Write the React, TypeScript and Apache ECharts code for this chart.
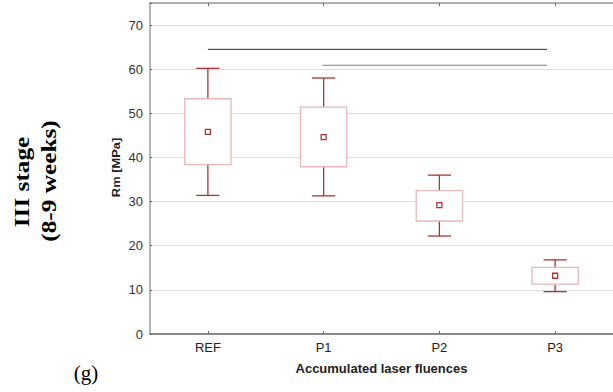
import React, { useEffect, useRef } from "react";
import * as echarts from "echarts";

const categories = ["REF", "P1", "P2", "P3"];
const whiskerMin = [31.4, 31.3, 22.2, 9.6];
const boxQ1 = [38.4, 37.9, 25.6, 11.3];
const meanValues = [45.8, 44.6, 29.2, 13.2];
const boxQ3 = [53.3, 51.4, 32.5, 15.1];
const whiskerMax = [60.2, 58.0, 36.0, 16.8];
const sigLine1X = [0, 2.93];
const sigLine1Y = [64.5, 64.5];
const sigLine2X = [0.99, 2.93];
const sigLine2Y = [60.9, 60.9];
const yTicks = [0, 10, 20, 30, 40, 50, 60, 70];

export default function App() {
  const ref = useRef<HTMLDivElement>(null);
  useEffect(() => {
    if (!ref.current) return;
    const chart = echarts.init(ref.current, null, { renderer: "svg" });
    const boxData = categories.map((_, i) => [
      i,
      whiskerMin[i],
      boxQ1[i],
      meanValues[i],
      boxQ3[i],
      whiskerMax[i],
    ]);
    const whiskerColor = "#aa3535";
    const boxColor = "#e8b8b8";
    const sans = "Liberation Sans, Arial, sans-serif";
    const serif = "Liberation Serif, Times New Roman, serif";
    chart.setOption({
      animation: false,
      backgroundColor: "#fff",
      grid: { left: 150, top: 3, right: -4, bottom: 58, containLabel: false },
      xAxis: [
        {
          type: "category",
          data: categories,
          position: "bottom",
          axisLine: { show: true, lineStyle: { color: "#888", width: 2 } },
          axisTick: { show: true, inside: true, length: 3, alignWithLabel: true, lineStyle: { color: "#666" } },
          axisLabel: { color: "#222", fontSize: 13, fontFamily: sans, margin: 7 },
          name: "Accumulated laser fluences",
          nameLocation: "middle",
          nameGap: 28,
          nameTextStyle: { color: "#222", fontSize: 13, fontWeight: "bold", fontFamily: sans },
          splitLine: { show: false },
        },
        {
          type: "category",
          data: categories,
          position: "top",
          axisLine: { show: true, lineStyle: { color: "#999", width: 1.5 } },
          axisTick: { show: true, inside: true, length: 3, alignWithLabel: true, lineStyle: { color: "#666" } },
          axisLabel: { show: false },
          splitLine: { show: false },
        },
        {
          type: "value",
          min: -0.5,
          max: 3.5,
          show: false,
        },
      ],
      yAxis: {
        type: "value",
        min: 0,
        max: 75,
        interval: 10,
        axisLine: { show: true, onZero: false, lineStyle: { color: "#999", width: 1.5 } },
        axisTick: { show: true, inside: true, length: 2, lineStyle: { color: "#666" } },
        axisLabel: {
          color: "#333",
          fontSize: 13,
          fontFamily: sans,
          margin: 7,
          formatter: (v: number) => (yTicks.includes(v) ? String(v) : ""),
        },
        splitLine: { show: true, lineStyle: { color: "#dedede", width: 1 } },
      },
      series: [
        {
          type: "custom",
          xAxisIndex: 0,
          yAxisIndex: 0,
          data: boxData,
          z: 3,
          renderItem: (params: any, api: any) => {
            const idx = api.value(0);
            const pMin = api.coord([idx, api.value(1)]);
            const pQ1 = api.coord([idx, api.value(2)]);
            const pMean = api.coord([idx, api.value(3)]);
            const pQ3 = api.coord([idx, api.value(4)]);
            const pMax = api.coord([idx, api.value(5)]);
            const band = api.size([1, 0])[0];
            const half = band * 0.2;
            const cap = band * 0.1;
            const cx = pMin[0];
            const ws = { stroke: whiskerColor, lineWidth: 1.3 };
            return {
              type: "group",
              children: [
                { type: "line", shape: { x1: cx, y1: pMin[1], x2: cx, y2: pQ1[1] }, style: ws },
                { type: "line", shape: { x1: cx, y1: pQ3[1], x2: cx, y2: pMax[1] }, style: ws },
                { type: "line", shape: { x1: cx - cap, y1: pMin[1], x2: cx + cap, y2: pMin[1] }, style: ws },
                { type: "line", shape: { x1: cx - cap, y1: pMax[1], x2: cx + cap, y2: pMax[1] }, style: ws },
                {
                  type: "rect",
                  shape: { x: cx - half, y: pQ3[1], width: half * 2, height: pQ1[1] - pQ3[1] },
                  style: { fill: "#fff", stroke: boxColor, lineWidth: 1.3 },
                },
                {
                  type: "rect",
                  shape: { x: cx - 2.5, y: pMean[1] - 2.5, width: 5, height: 5 },
                  style: { fill: "#fff", stroke: whiskerColor, lineWidth: 1.3 },
                },
              ],
            };
          },
        },
        {
          type: "line",
          xAxisIndex: 2,
          yAxisIndex: 0,
          symbol: "none",
          data: sigLine1X.map((x, i) => [x, sigLine1Y[i]]),
          lineStyle: { color: "#2a2a2a", width: 1 },
          z: 4,
        },
        {
          type: "line",
          xAxisIndex: 2,
          yAxisIndex: 0,
          symbol: "none",
          data: sigLine2X.map((x, i) => [x, sigLine2Y[i]]),
          lineStyle: { color: "#808080", width: 1.2 },
          z: 4,
        },
      ],
      graphic: [
        {
          type: "text",
          x: 116,
          y: 167.5,
          rotation: Math.PI / 2,
          scaleX: 1.17,
          style: {
            text: "Rm [MPa]",
            font: `bold 11px ${sans}`,
            fill: "#222",
            textAlign: "center",
            textVerticalAlign: "middle",
          },
        },
        {
          type: "text",
          x: 22,
          y: 182,
          rotation: Math.PI / 2,
          scaleX: 1.15,
          style: {
            text: "III stage",
            font: `bold 22px ${serif}`,
            fill: "#000",
            textAlign: "center",
            textVerticalAlign: "middle",
          },
        },
        {
          type: "text",
          x: 49,
          y: 181,
          rotation: Math.PI / 2,
          scaleX: 1.15,
          style: {
            text: "(8-9 weeks)",
            font: `bold 22px ${serif}`,
            fill: "#000",
            textAlign: "center",
            textVerticalAlign: "middle",
          },
        },
        {
          type: "text",
          x: 86,
          y: 373,
          style: {
            text: "(g)",
            font: `21px ${serif}`,
            fill: "#000",
            textAlign: "center",
            textVerticalAlign: "middle",
          },
        },
      ],
    });
    return () => chart.dispose();
  }, []);
  return (
    <div
      ref={ref}
      style={{ position: "absolute", left: 0, top: 0, width: 613, height: 392, overflow: "hidden" }}
    />
  );
}
